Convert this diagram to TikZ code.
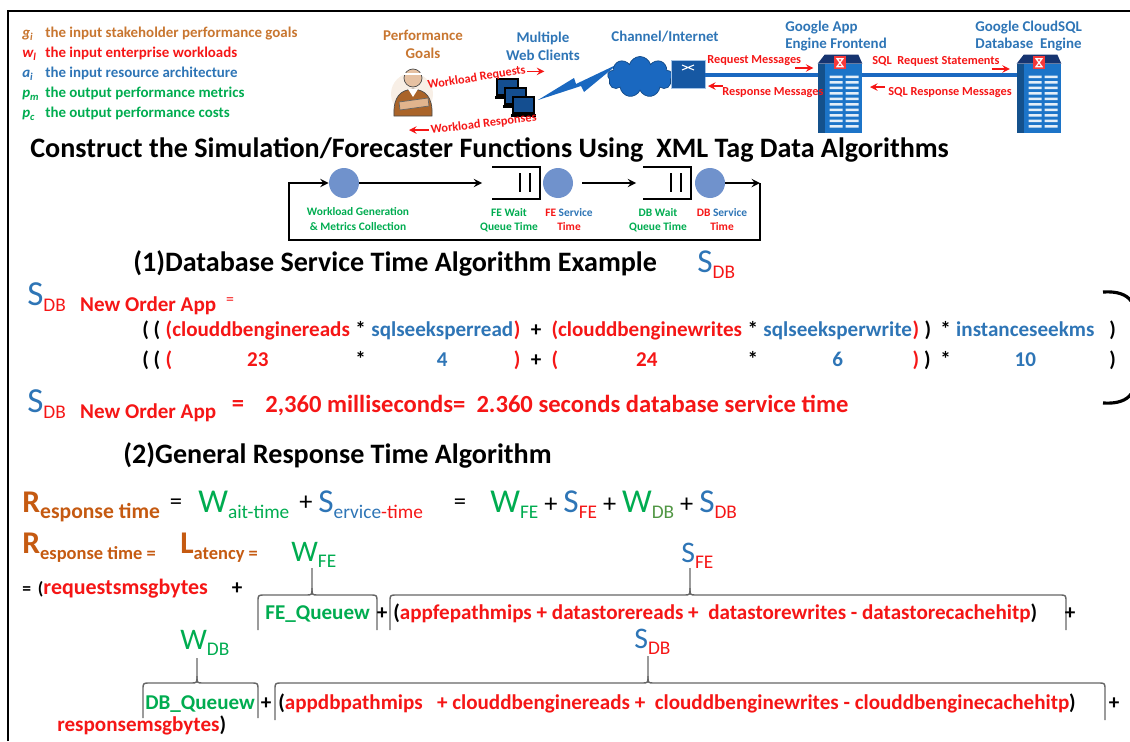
\documentclass[tikz,border=0pt]{standalone}
\usepackage{fontspec}
\setmainfont{Carlito}
\usetikzlibrary{positioning,shapes.geometric,shapes.symbols,calc}

\definecolor{goalorange}{RGB}{200,118,48}
\definecolor{resporange}{RGB}{197,90,17}
\definecolor{msgred}{RGB}{245,22,22}
\definecolor{archblue}{RGB}{46,117,182}
\definecolor{metgreen}{RGB}{0,172,80}
\definecolor{qblue}{RGB}{112,146,204}
\definecolor{srvblue}{RGB}{28,116,200}
\definecolor{srvnavy}{RGB}{22,52,112}
\definecolor{netblue}{RGB}{26,104,192}

\newcommand\Sym[5][19]{\textcolor{#2}{\fontsize{#1}{20}\selectfont\mdseries #3}\raisebox{-.6ex}{\textcolor{#4}{\fontsize{11}{12}\selectfont\mdseries #5}}}
\newcommand\Rsym[3][10.5]{\textcolor{resporange}{\fontsize{18}{20}\selectfont\bfseries #2}\raisebox{-.6ex}{\textcolor{resporange}{\fontsize{#1}{12}\selectfont\bfseries #3}}}
\newcommand\legsym[2]{\makebox[0.46cm][l]{\itshape #1\raisebox{-.5ex}{\fontsize{6}{6}\selectfont #2}}}
\newcommand\opplus{{\fontsize{15}{16}\selectfont\mdseries\ +\ }}
% x1, x2, tip x, line y, tip top y, end y
\newcommand\termbrace[6]{%
  \draw[bracestroke] (#1,#6) -- (#1,#4+7) .. controls (#1,#4) .. (#1+7,#4) -- (#3-6,#4)
    .. controls (#3,#4) .. (#3,#4-7) -- (#3,#5);
  \draw[bracestroke] (#3,#4-7) .. controls (#3,#4) .. (#3+6,#4) -- (#2-7,#4)
    .. controls (#2,#4) .. (#2,#4+7) -- (#2,#6);
}

\begin{document}
\begin{tikzpicture}[
    x=0.02cm, y=-0.02cm,
    >=stealth,
    legtxt/.style={font=\fontsize{8.5}{10}\selectfont\bfseries, anchor=base west, inner sep=0},
    netlbl/.style={font=\fontsize{8.5}{10.2}\selectfont\bfseries, text=archblue, align=center, inner sep=0},
    msglbl/.style={font=\fontsize{7}{8}\selectfont\bfseries, text=msgred, anchor=base west, inner sep=0},
    msgarrow/.style={->, msgred, line width=0.9pt},
    heading/.style={font=\fontsize{16}{18}\selectfont\bfseries, anchor=base west, inner sep=0},
    svc/.style={circle, fill=qblue, minimum size=0.6cm, inner sep=0},
    qbox/.style={minimum width=0.94cm, minimum height=0.62cm, inner sep=0},
    flow/.style={line width=1.1pt},
    qlbl/.style={font=\fontsize{6.5}{8}\selectfont\bfseries, align=center, inner sep=0},
    srvbox/.style={fill=srvblue, minimum width=0.88cm, minimum height=1.38cm, inner sep=0},
    link/.style={netblue, line width=1.8pt},
    fx/.style={font=\fontsize{12}{14}\selectfont\bfseries, anchor=base west, inner sep=0},
    fxc/.style={fx, anchor=base},
    bracestroke/.style={draw=black!60, line width=0.8pt}
]
\useasboundingbox (0,0) rectangle (1130,741);

\draw[line width=1.7pt] (8,741) -- (8,11) -- (1130,11);

% legend
\node[legtxt, text=goalorange] (lgoal) at (22,37) {\legsym{g}{i}the input stakeholder performance goals};
\node[legtxt, text=msgred] (lwork) at (22,57) {\legsym{w}{l}the input enterprise workloads};
\node[legtxt, text=archblue] (larch) at (22,77) {\legsym{a}{i}the input resource architecture};
\node[legtxt, text=metgreen] (lmet) at (22,97) {\legsym{p}{m}the output\ performance metrics};
\node[legtxt, text=metgreen] (lcost) at (22,117) {\legsym{p}{c}the output performance costs};

% network
\node[netlbl, text=goalorange] (goals) at (423,44) {Performance\\Goals};
\node[netlbl] (clients) at (543,46) {Multiple\\Web Clients};
\node[netlbl] (channel) at (665,37) {Channel/Internet};
\node[netlbl, align=left, anchor=west] (gae) at (785,36) {Google App\\Engine Frontend};
\node[netlbl, align=left, anchor=west] (csql) at (975,36) {Google CloudSQL\\Database\ \ Engine};

\fill[goalorange!12] (412,94) circle (21);
\draw[fill=goalorange!85!black, draw=black!70] (394,116) .. controls (393,96) and (401,90) .. (413,89)
    .. controls (425,90) and (433,96) .. (432,116) -- cycle;
\fill[white] (408,89) -- (418,89) -- (413,97) -- cycle;
\draw[fill=goalorange!55, draw=black!60] (399,102) -- (428,98) -- (429,106) -- (400,110) -- cycle;
\draw[fill=goalorange!45, draw=black!70] (413,78) circle (9);
\draw[white, line width=1.6pt] (404,74) -- (422,74);

\foreach \i in {0,1,2} {
  \draw[fill=netblue!75!black, draw=black, line width=1.2pt] (497+8*\i,79+9*\i) rectangle ++(21,16);
  \fill[black] (495+8*\i,96+9*\i) rectangle ++(25,3);
}
\fill[netblue] (538,100) -- (574,78) -- (576,84) -- (618,64) -- (584,92) -- (581,86) -- cycle;

\node[cloud, cloud puffs=9, aspect=1.6, fill=netblue, draw=netblue!70!black,
      minimum width=1.3cm, minimum height=0.82cm, inner sep=0] (inet) at (640,77) {};
\node[cylinder, shape border rotate=90, aspect=0.5, minimum width=0.68cm, minimum height=0.56cm,
      cylinder uses custom fill, cylinder body fill=netblue!85!black, cylinder end fill=netblue!55,
      draw=netblue!40, inner sep=0] (router) at (688,75) {};
\draw[white, line width=0.6pt] (682,65) -- (694,70) (682,70) -- (694,65);

\node[srvbox] (fe) at (840,98.5) {};
\node[srvbox] (db) at (1039,98.5) {};
\foreach \srv in {fe,db} {
  \fill[srvnavy] (\srv.north west) -- ++(7,-9) -- ($(\srv.north east)+(-4,-9)$) -- (\srv.north east) -- cycle;
  \fill[srvblue!70!black] (\srv.north west) rectangle ($(\srv.south west)+(7,0)$);
  \foreach \r in {0,...,9}
    \fill[white!88!srvblue] ($(\srv.north west)+(12,12+5.5*\r)$) rectangle ++(13,2.5)
                            ($(\srv.north west)+(28,12+5.5*\r)$) rectangle ++(13,2.5);
  \fill[msgred!85] ($(\srv.north)+(-6,-8)$) rectangle ++(12,13);
  \draw[white, line width=0.7pt] ($(\srv.north)+(-3,-5)$) -- ++(6,0) -- ++(-6,8) -- ++(6,0) -- cycle;
}
\draw[link] (router.east) -- (router.east -| fe.west);
\draw[link] (router.east -| fe.east) -- (router.east -| db.west);

\node[msglbl, rotate=9] (wreq) at (428,89) {Workload Requests};
\draw[msgarrow] ($(wreq.base east)+(1,-2)$) -- ++(17,0);
\node[msglbl, rotate=7] (wresp) at (431,134) {Workload Responses};
\draw[msgarrow] ($(wresp.base west)+(-2,-4)$) -- ++(-20,0);
\node[msglbl] (reqm) at (707,63) {Request Messages};
\draw[msgarrow] ($(reqm.base east)+(-6,5)$) -- ++(18,0);
\node[msglbl] (respm) at (722,95) {Response Messages};
\draw[msgarrow] ($(respm.base west)+(1,-9)$) -- ++(-15,0);
\node[msglbl] (sqlreq) at (872,64) {SQL\ \ Request Statements};
\draw[msgarrow] ($(sqlreq.base east)+(-8,5)$) -- ++(18,0);
\node[msglbl] (sqlresp) at (888,95) {SQL Response Messages};
\draw[msgarrow] ($(sqlresp.base west)+(-3,-8)$) -- ++(-15,0);

\node[heading] (title) at (30,157) {Construct the Simulation/Forecaster Functions Using\ \ XML Tag Data Algorithms};

% queueing loop
\node[svc] (wgen) at (344,183) {};
\node[qbox] (fewait) at (516,183) {};
\node[svc] (fesrv) at (558,183) {};
\node[qbox] (dbwait) at (667,183) {};
\node[svc] (dbsrv) at (710,183) {};
\coordinate (loopR) at (760,183);
\coordinate (loopB) at (760,240);
\coordinate (loopL) at (289,240);
\foreach \q in {fewait,dbwait} {
  \draw[flow] (\q.north west) -- (\q.north east) -- (\q.south east) -- (\q.south west);
  \draw[flow] ($(\q.north)+(4,6)$) -- ++(0,19) ($(\q.north)+(14,6)$) -- ++(0,19);
}
\draw[flow, ->, shorten >=2mm] (wgen) -- (fewait.west);
\draw[flow, ->, shorten <=1.8mm, shorten >=1.4mm] (fesrv) -- (dbwait.west);
\draw[flow, ->] (dbsrv) -- (loopR);
\draw[flow, ->] (loopR) -- (loopB) -- (loopL) |- (wgen);

\node[qlbl, text=metgreen] (wgenlbl) at (358,219) {Workload Generation\\\& Metrics Collection};
\node[qlbl, text=metgreen] (fewaitlbl) at (509,220) {FE Wait\\Queue Time};
\node[qlbl, text=msgred] (fesrvlbl) at (569,220) {FE \textcolor{archblue}{Service}\\Time};
\node[qlbl, text=metgreen] (dbwaitlbl) at (658,220) {DB Wait\\Queue Time};
\node[qlbl, text=msgred] (dbsrvlbl) at (722,220) {DB \textcolor{archblue}{Service}\\Time};

% (1) database service time
\node[heading] (sec1) at (133,271) {(1)Database Service Time Algorithm Example};
\node[fx] (sdbtag) at (697,272) {\Sym{archblue}{S}{msgred}{DB}};

\node[fx] (sdbdef) at (27,305) {\Sym[20]{archblue}{S}{msgred}{DB}\ \ \ \raisebox{-.6ex}{\textcolor{msgred}{New Order App}}};
\node[fxc, text=msgred, font=\fontsize{9}{10}\selectfont] (eq0) at (230,304) {=};

\node[fx] (l1a) at (142,336) {(\ (\ \null};
\node[fx, base right=0pt of l1a, text=msgred] (l1b) {(clouddbenginereads};
\node[fx, base right=0pt of l1b] (l1c) {\ *\ \null};
\node[fx, base right=0pt of l1c, text=archblue] (l1d) {sqlseeksperread};
\node[fx, base right=0pt of l1d, text=msgred] (l1e) {)};
\node[fx, base right=0pt of l1e] (l1f) {\ \ +\ \ \null};
\node[fx, base right=0pt of l1f, text=msgred] (l1g) {(clouddbenginewrites};
\node[fx, base right=0pt of l1g] (l1h) {\ *\ \null};
\node[fx, base right=0pt of l1h, text=archblue] (l1i) {sqlseeksperwrite};
\node[fx, base right=0pt of l1i, text=msgred] (l1j) {)};
\node[fx, base right=0pt of l1j] (l1k) {\ )\,\null};
\node[fx, base right=0pt of l1k] (l1l) {\ *\ \null};
\node[fx, base right=0pt of l1l, text=archblue] (l1m) {instanceseekms};
\node[fx, base right=0pt of l1m] (l1n) {\ \ \ )};

\coordinate (row2) at (0,366);
\node[fx] (l2a) at (142,366) {(\ (\ \null};
\node[fx, text=msgred] (l2b) at (l1b.base west |- row2) {(};
\node[fxc, text=msgred] (n23) at (l1b |- row2) {23};
\node[fxc] (l2c) at (l1c |- row2) {*};
\node[fxc, text=archblue] (n4) at (l1d |- row2) {4};
\node[fxc, text=msgred] (l2d) at (l1e |- row2) {)};
\node[fxc] (l2e) at (l1f |- row2) {+};
\node[fx, text=msgred] (l2f) at (l1g.base west |- row2) {(};
\node[fxc, text=msgred] (n24) at (l1g |- row2) {24};
\node[fxc] (l2g) at (l1h |- row2) {*};
\node[fxc, text=archblue] (n6) at (l1i |- row2) {6};
\node[fxc, text=msgred] (l2h) at (l1j |- row2) {)};
\node[fxc] (l2i) at (l1k |- row2) {)};
\node[fxc] (l2j) at (l1l |- row2) {*};
\node[fxc, text=archblue] (n10) at (l1m |- row2) {10};
\node[fx, anchor=base east] (l2k) at (l1n.base east |- row2) {)};

\draw[line width=1.8pt] (1103,292) .. controls (1118,291) and (1127,295) .. (1131,301);
\draw[line width=1.8pt] (1103,403) .. controls (1118,404) and (1127,400) .. (1131,394);

\node[fx] (sdbres) at (27,412) {\Sym[20]{archblue}{S}{msgred}{DB}\ \ \ \raisebox{-.6ex}{\textcolor{msgred}{New Order App}}};
\node[fxc, text=msgred, font=\fontsize{14}{16}\selectfont\bfseries] (eqres) at (238,411) {=};
\node[fx, text=msgred, font=\fontsize{14}{16}\selectfont\bfseries] (sdbval) at (265,412)
    {2,360 milliseconds=\ \ 2.360 seconds database service time};

% (2) response time
\node[heading] (sec2) at (123,463) {(2)General Response Time Algorithm};

\node[fx] (rdef) at (22,512) {\Rsym[12.3]{R}{esponse time}};
\node[fxc, font=\fontsize{14}{16}\selectfont] (req1) at (176,509) {=};
\node[fx] (wait) at (198,512) {\Sym{metgreen}{W}{metgreen}{ait-time}};
\node[fxc, font=\fontsize{15}{16}\selectfont] (plus1) at (306,510) {+};
\node[fx] (serv) at (318,512) {\Sym{archblue}{S}{archblue}{ervice\textcolor{msgred}{-time}}};
\node[fxc, font=\fontsize{14}{16}\selectfont] (req2) at (460,509) {=};
\node[fx] (rsum) at (490,512) {\Sym{metgreen}{W}{metgreen}{FE}\opplus\Sym{archblue}{S}{msgred}{FE}\opplus
    \Sym{metgreen}{W}{metgreen!60!goalorange}{DB}\opplus\Sym{archblue}{S}{msgred}{DB}};

\node[fx] (rdef2) at (22,553) {\Rsym{R}{esponse time =}};
\node[fx] (lat) at (180,553) {\Rsym{L}{atency =}};

\node[fx] (wfe) at (291,561) {\Sym[17]{metgreen}{W}{metgreen}{FE}};
\node[fx] (sfe) at (681,562) {\Sym[17]{archblue}{S}{msgred}{FE}};
\node[fx] (wdb) at (180,649) {\Sym[17]{metgreen}{W}{metgreen}{DB}};
\node[fx] (sdb) at (634,648) {\Sym[17]{archblue}{S}{msgred}{DB}};

\termbrace{258}{377}{312}{595}{568}{630}
\termbrace{390}{1066}{690}{595}{568}{630}
\termbrace{143}{258}{197}{683}{658}{718}
\termbrace{275}{1105}{648}{683}{656}{720}

\node[fx] (reqs) at (22,594) {{\fontsize{10}{12}\selectfont =\ \,(}\textcolor{msgred}{\fontsize{12.5}{14}\selectfont requestsmsgbytes}};
\node[fxc] (reqplus) at (237,594) {+};

\node[fx, text=metgreen] (feq) at (265,619) {FE\_Queuew};
\node[fxc] (feplus) at (382,619) {+};
\node[fx] (fesum) at (393,619) {(\textcolor{msgred}{appfepathmips + datastorereads +\ \ datastorewrites - datastorecachehitp})};
\node[fxc] (feplus2) at (1070,619) {+};

\node[fx, text=metgreen] (dbq) at (145,709) {DB\_Queuew};
\node[fxc] (dbplus) at (266,709) {+};
\node[fx] (dbsum) at (278,709) {(\textcolor{msgred}{appdbpathmips\ \ \ + clouddbenginereads +\ \ clouddbenginewrites - clouddbenginecachehitp})};
\node[fxc] (dbplus2) at (1114,709) {+};
\node[fx] (resp) at (57,731) {\textcolor{msgred}{responsemsgbytes})};

\end{tikzpicture}
\end{document}
